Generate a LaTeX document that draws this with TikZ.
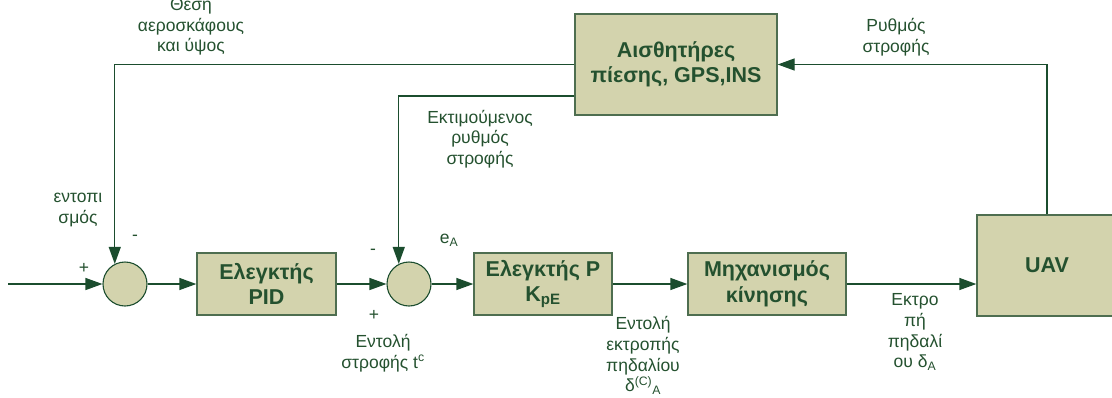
\documentclass[tikz,border=0pt]{standalone}
\usepackage{fontspec}
\setmainfont{Liberation Sans}
\usetikzlibrary{arrows.meta,calc}
\definecolor{linegreen}{HTML}{1B4D2E}
\definecolor{textgreen}{HTML}{24512F}
\definecolor{boxfill}{HTML}{D3D3AD}
\definecolor{boxedge}{HTML}{4E6E50}

\begin{document}
\begin{tikzpicture}[x=1pt,y=-1pt,
  blk/.style={draw=boxedge, line width=1.3pt, fill=boxfill, text=textgreen,
    font=\fontsize{21.5}{25.5}\selectfont\bfseries, align=center, inner sep=0pt},
  sumc/.style={circle, draw=linegreen, line width=1.1pt, fill=boxfill,
    minimum size=44pt, inner sep=0pt},
  lbl/.style={text=textgreen, font=\fontsize{17.5}{20.7}\selectfont, align=center, inner sep=0pt},
  sgn/.style={text=textgreen, font=\fontsize{17.5}{20}\selectfont, inner sep=0pt},
  ln/.style={draw=linegreen, line width=1.3pt},
  arr/.style={ln, -{Triangle[length=17pt,width=12pt]}}]
\useasboundingbox (0,0) rectangle (1112,397);

% blocks
\node[blk, minimum width=139pt, minimum height=62pt] (pid) at (266.5,284) {Ελεγκτής\\PID};
\node[blk, minimum width=138pt, minimum height=62pt] (pe) at (543,284) {Ελεγκτής P\\K\textsubscript{pE}};
\node[blk, minimum width=158pt, minimum height=62pt] (mech) at (767,284) {Μηχανισμός\\κίνησης};
\node[blk, minimum width=140pt, minimum height=101pt] (uav) at (1047,265.5) {UAV};
\node[blk, minimum width=202pt, minimum height=101pt] (sens) at (676,64.5) {Αισθητήρες\\πίεσης, GPS,INS};

% summing junctions
\node[sumc] (c1) at (125,284) {};
\node[sumc] (c2) at (409,284) {};

% forward path
\coordinate (in) at (8,284);
\draw[arr] (in) -- (c1.west);
\draw[arr] (c1.east) -- (pid.west);
\draw[arr] (pid.east) -- (c2.west);
\draw[arr] (c2.east) -- (pe.west);
\draw[arr] (pe.east) -- (mech.west);
\draw[arr] (mech.east) -- (mech.east -| uav.west);

% feedback paths
\draw[arr] (uav.north) |- (sens.east);
\draw[arr] (sens.west) -| (c1.117);
\draw[arr] ([yshift=-31.5pt]sens.west) -| (c2.117);

% signs
\node[sgn] at (84,268) {+};
\node[sgn] at (135,238) {-};
\node[sgn] at (373,252) {-};
\node[sgn] at (374,315) {+};

% signal labels
\node[lbl] at (191,26.5) {Θέση\\αεροσκάφους\\και ύψος};
\node[lbl] at (78,210) {εντοπι\\σμός};
\node[lbl] at (480,139) {Εκτιμούμενος\\ρυθμός\\στροφής};
\node[lbl] at (896,37.5) {Ρυθμός\\στροφής};
\node[lbl] at (449,240) {e\textsubscript{A}};
\node[lbl] at (383,353) {Εντολή\\στροφής t\textsuperscript{c}};
\node[lbl] at (643,355.5) {Εντολή\\εκτροπής\\πηδαλίου\\δ\textsuperscript{(C)}\textsubscript{A}};
\node[lbl] at (915,332) {Εκτρο\\πή\\πηδαλί\\ου δ\textsubscript{A}};
\end{tikzpicture}
\end{document}
